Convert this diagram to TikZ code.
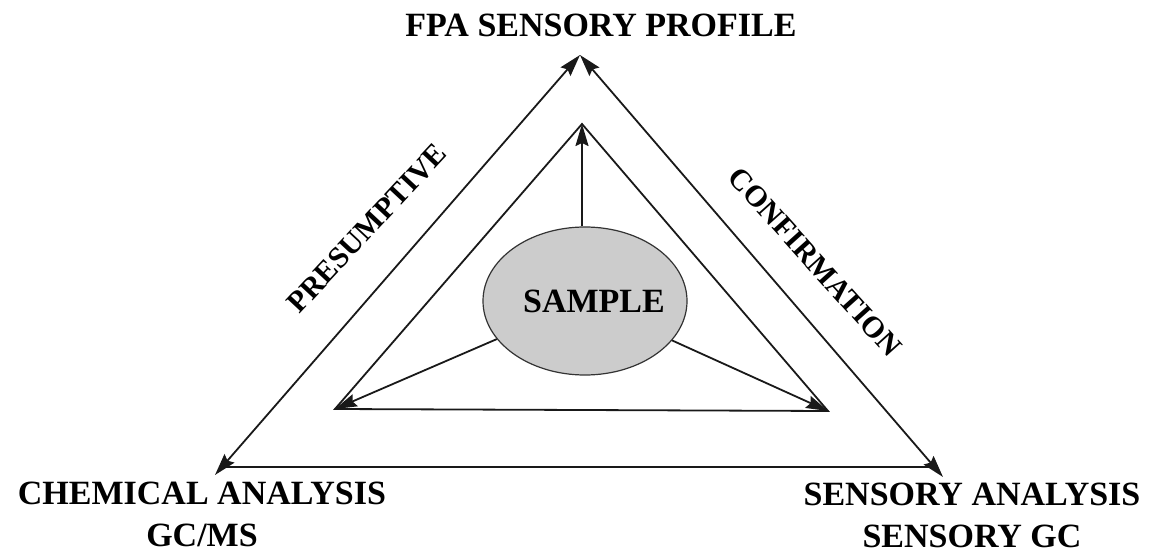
\documentclass[tikz,border=0pt]{standalone}
\usepackage{fontspec}
\setmainfont{Liberation Serif}
\usetikzlibrary{arrows.meta,shapes.geometric}
\begin{document}
\begin{tikzpicture}[x=1pt,y=1pt,
  edge/.style={line width=1.8pt,draw=black!90},
  tip/.style={-{Stealth[length=22pt,width=13pt,inset=3pt]}},
  twotip/.style={{Stealth[length=22pt,width=13pt,inset=3pt]}-{Stealth[length=22pt,width=13pt,inset=3pt]}},
  corner/.style={font=\fontsize{34}{42}\selectfont\bfseries,align=center,inner sep=0pt},
  sidelabel/.style={font=\fontsize{30}{36}\selectfont\bfseries,inner sep=0pt}]
\useasboundingbox (0,0) rectangle (1160,555);
% outer triangle corners
\coordinate (top) at (580,500);
\coordinate (bl) at (215,80);
\coordinate (br) at (943,78);
\coordinate (bl2) at (226,88);
\coordinate (br2) at (932,88);
% inner triangle corners
\coordinate (itop) at (582,431);
\coordinate (ibl) at (335,146);
\coordinate (ibr) at (828,144);
% central sample
\node[ellipse,draw=black!80,line width=1.2pt,fill=gray!40,minimum width=204pt,minimum height=148pt,inner sep=0pt] (sample) at (585,254) {};
\node[font=\fontsize{34}{40}\selectfont\bfseries,inner sep=0pt,anchor=base] (samplelbl) at (594,242) {SAMPLE};
% outer triangle
\draw[edge,twotip] (bl) -- (top);
\draw[edge,twotip] (br) -- (top);
\draw[edge] (bl2) -- (br2);
% inner triangle
\draw[edge] (ibl) -- (itop) -- (ibr) -- cycle;
% arrows from the sample to the inner corners
\draw[edge,tip] (sample.north -| itop) -- (itop);
\draw[edge,tip] (sample) -- (ibl);
\draw[edge,tip] (sample) -- (ibr);
% labels
\node[corner,anchor=base] (fpa) at (601,518) {FPA SENSORY PROFILE};
\node[corner,anchor=north] (chem) at (202,73) {CHEMICAL ANALYSIS\\GC/MS};
\node[corner,anchor=north] (sens) at (972,72) {SENSORY ANALYSIS\\SENSORY GC};
\node[sidelabel,rotate=47] (pres) at (367,327) {PRESUMPTIVE};
\node[sidelabel,rotate=-48] (conf) at (815,293) {CONFIRMATION};
\end{tikzpicture}
\end{document}
